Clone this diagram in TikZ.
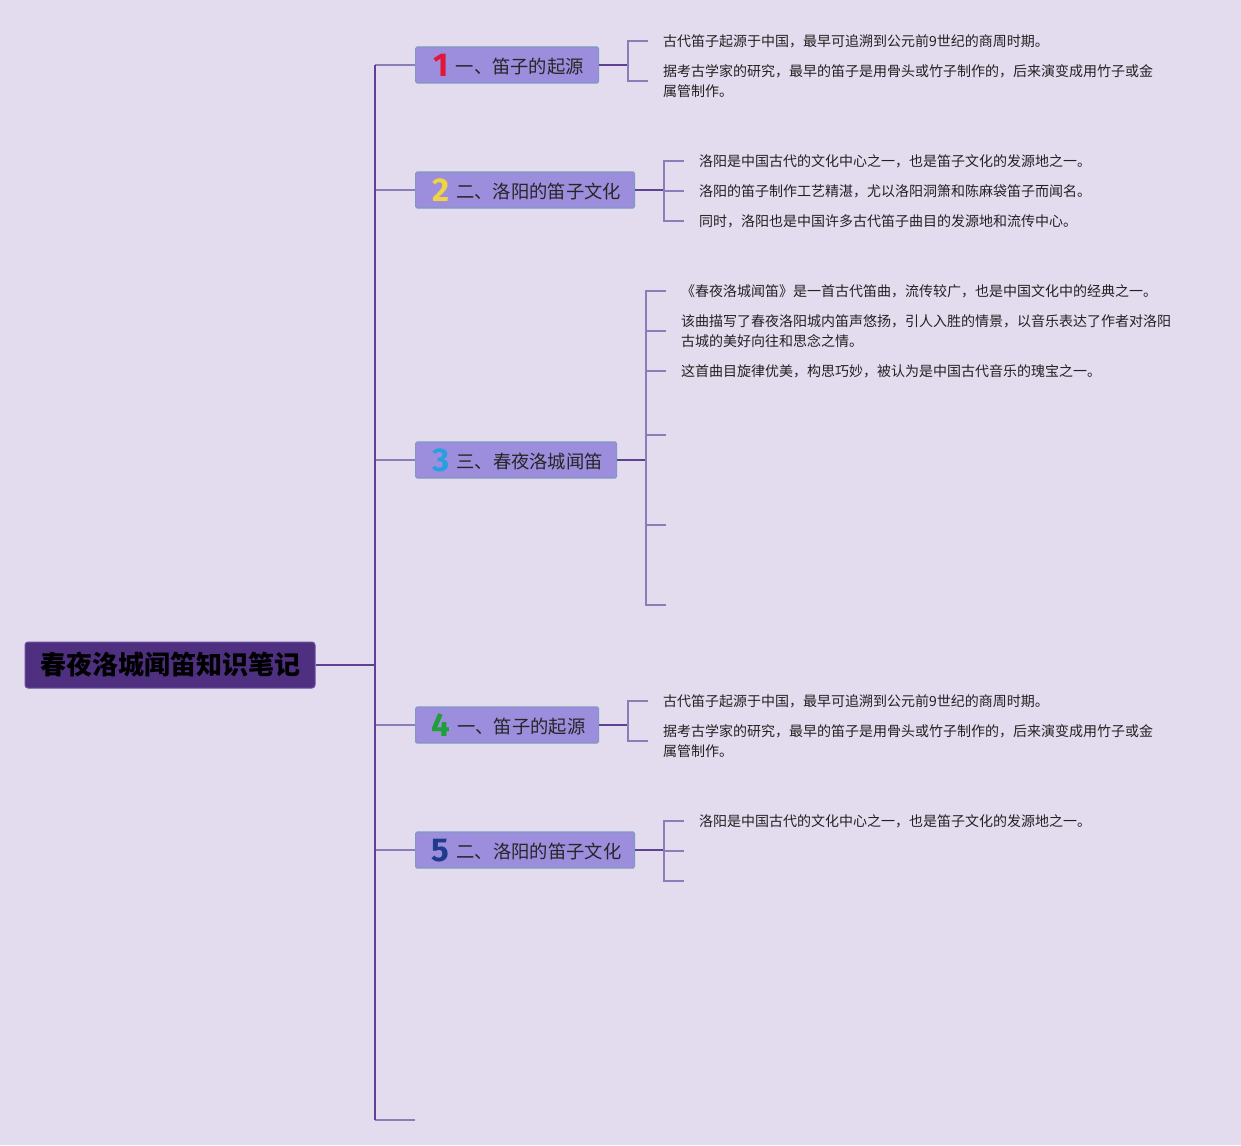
\documentclass[tikz,border=0pt]{standalone}
\usepackage{fontspec}
\setmainfont{Noto Sans CJK SC}
\newfontfamily\numfont{Fira Sans}
\definecolor{bg}{HTML}{E3DBEE}
\definecolor{rootfill}{HTML}{4E2F80}
\definecolor{rootdraw}{HTML}{6A50A0}
\definecolor{brfill}{HTML}{9C8EDC}
\definecolor{brdraw}{HTML}{7F9AC0}
\definecolor{trunkc}{HTML}{5E4192}
\definecolor{tickc}{HTML}{8C7CB8}
\definecolor{leafc}{HTML}{222222}
\definecolor{n1}{HTML}{E0173A}
\definecolor{n2}{HTML}{F0D440}
\definecolor{n3}{HTML}{2A9FE0}
\definecolor{n4}{HTML}{1F9E3A}
\definecolor{n5}{HTML}{213A8C}
\tikzset{
  rootbox/.style={draw=rootdraw, line width=1pt, fill=rootfill, rounded corners=3pt,
    minimum width=290pt, minimum height=46pt, inner sep=0pt,
    font=\fontsize{26pt}{30pt}\selectfont\bfseries, text=black},
  branchbox/.style={draw=brdraw, line width=1.2pt, fill=brfill, rounded corners=1.5pt,
    minimum height=36pt, inner sep=0pt, anchor=west, text height=17pt, text depth=0pt,
    font=\fontsize{18.3pt}{22pt}\selectfont, text=black!85},
  leaf/.style={anchor=west, inner xsep=15pt, inner ysep=0pt, align=left,
    font=\fontsize{14pt}{20pt}\selectfont, text=leafc},
  trunk/.style={draw=trunkc, line width=2pt},
  twig/.style={draw=tickc, line width=1.5pt},
  tickline/.style={draw=tickc, line width=1.3pt},
  junc/.style={draw=trunkc, line width=1.8pt},
}
\newcommand{\badge}[2]{\hspace{3pt}\raisebox{-3.2pt}[0pt][0pt]{\numfont\bfseries\fontsize{33pt}{33pt}\selectfont\color{#1}#2}\hspace{7pt}}
\begin{document}
\begin{tikzpicture}[x=1pt,y=-1pt]
\useasboundingbox (0,0) rectangle (1241,1145);
\fill[bg] (0,0) rectangle (1241,1145);

% root
\node[rootbox] (root) at (170,665) {春夜洛城闻笛知识笔记};
\coordinate (t) at (375,665);
\coordinate (tend) at (415,1120);

% branches
\node[branchbox, minimum width=183pt] (b1) at (415,65) {\badge{n1}{1}一、笛子的起源};
\node[branchbox, minimum width=219pt] (b2) at (415,190) {\badge{n2}{2}二、洛阳的笛子文化};
\node[branchbox, minimum width=201pt] (b3) at (415,460) {\badge{n3}{3}三、春夜洛城闻笛};
\node[branchbox, minimum width=183pt] (b4) at (415,725) {\badge{n4}{4}一、笛子的起源};
\node[branchbox, minimum width=219pt] (b5) at (415,850) {\badge{n5}{5}二、洛阳的笛子文化};

% trunk
\draw[twig] (t |- b1.west) -- (b1.west);
\draw[twig] (t |- b2.west) -- (b2.west);
\draw[twig] (t |- b3.west) -- (b3.west);
\draw[twig] (t |- b4.west) -- (b4.west);
\draw[twig] (t |- b5.west) -- (b5.west);
\draw[twig] (t |- tend) -- (tend);
\draw[trunk] (root.east) -- (t);
\draw[trunk] (t |- b1.west) -- (t |- tend);

% branch 1
\coordinate (j1) at (628,65);
\node[leaf] (l11) at (648,41) {古代笛子起源于中国，最早可追溯到公元前9世纪的商周时期。};
\node[leaf] (l12) at (648,81) {据考古学家的研究，最早的笛子是用骨头或竹子制作的，后来演变成用竹子或金\\属管制作。};
\draw[junc] (b1.east) -- (j1);
\draw[tickline] (j1) |- (l11.west);
\draw[tickline] (j1) |- (l12.west);

% branch 2
\coordinate (j2) at (664,190);
\node[leaf] (l21) at (684,161) {洛阳是中国古代的文化中心之一，也是笛子文化的发源地之一。};
\node[leaf] (l22) at (684,191) {洛阳的笛子制作工艺精湛，尤以洛阳洞箫和陈麻袋笛子而闻名。};
\node[leaf] (l23) at (684,221) {同时，洛阳也是中国许多古代笛子曲目的发源地和流传中心。};
\draw[junc] (b2.east) -- (j2);
\draw[tickline] (j2) |- (l21.west);
\draw[tickline] (j2) |- (l22.west);
\draw[tickline] (j2) |- (l23.west);

% branch 3
\coordinate (j3) at (646,460);
\node[leaf] (l31) at (666,291) {《春夜洛城闻笛》是一首古代笛曲，流传较广，也是中国文化中的经典之一。};
\node[leaf] (l32) at (666,331) {该曲描写了春夜洛阳城内笛声悠扬，引人入胜的情景，以音乐表达了作者对洛阳\\古城的美好向往和思念之情。};
\node[leaf] (l33) at (666,371) {这首曲目旋律优美，构思巧妙，被认为是中国古代音乐的瑰宝之一。};
\coordinate (l34) at (666,435);
\coordinate (l35) at (666,525);
\coordinate (l36) at (666,605);
\draw[junc] (b3.east) -- (j3);
\draw[tickline] (j3) |- (l31.west);
\draw[tickline] (j3) |- (l32.west);
\draw[tickline] (j3) |- (l33.west);
\draw[tickline] (j3) |- (l34);
\draw[tickline] (j3) |- (l35);
\draw[tickline] (j3) |- (l36);

% branch 4
\coordinate (j4) at (628,725);
\node[leaf] (l41) at (648,701) {古代笛子起源于中国，最早可追溯到公元前9世纪的商周时期。};
\node[leaf] (l42) at (648,741) {据考古学家的研究，最早的笛子是用骨头或竹子制作的，后来演变成用竹子或金\\属管制作。};
\draw[junc] (b4.east) -- (j4);
\draw[tickline] (j4) |- (l41.west);
\draw[tickline] (j4) |- (l42.west);

% branch 5
\coordinate (j5) at (664,850);
\node[leaf] (l51) at (684,821) {洛阳是中国古代的文化中心之一，也是笛子文化的发源地之一。};
\coordinate (l52) at (684,851);
\coordinate (l53) at (684,881);
\draw[junc] (b5.east) -- (j5);
\draw[tickline] (j5) |- (l51.west);
\draw[tickline] (j5) |- (l52);
\draw[tickline] (j5) |- (l53);
\end{tikzpicture}
\end{document}
